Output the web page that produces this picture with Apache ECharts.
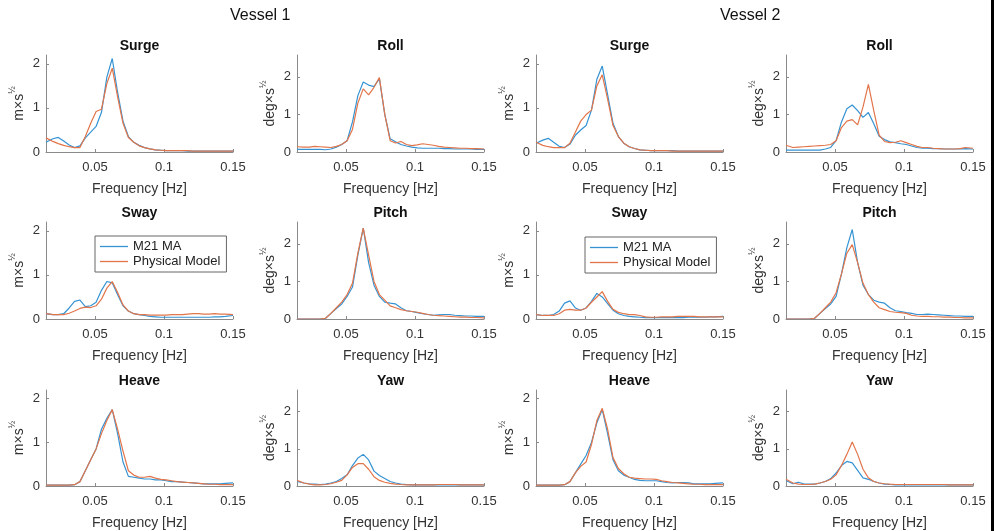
<!DOCTYPE html>
<html>
<head>
<meta charset="utf-8">
<title>Vessel motion spectra</title>
<script src="https://cdn.jsdelivr.net/npm/echarts@6/dist/echarts.min.js"></script>
<style>
  html, body { margin: 0; padding: 0; background: #fff; }
  #chart { width: 999px; height: 531px; }
</style>
</head>
<body>
<div id="chart"></div>
<script>
// frequency samples [Hz]
const freq = [0.0145, 0.0195, 0.0234, 0.0273, 0.0313, 0.0352, 0.0391, 0.043, 0.0469, 0.0508,
  0.0547, 0.0586, 0.0625, 0.0664, 0.0703, 0.0742, 0.0781, 0.082, 0.0859, 0.0898,
  0.0938, 0.0977, 0.1016, 0.1055, 0.1094, 0.1133, 0.1172, 0.1211, 0.125, 0.1289,
  0.1328, 0.1367, 0.1406, 0.1445, 0.15]
const xTicks = [0.05, 0.1, 0.15]
const yTicks = [0, 1, 2]
const seriesNames = ['M21 MA', 'Physical Model']
const vesselNames = ['Vessel 1', 'Vessel 2']

// Vessel 1
const surge1Num = [0.22, 0.30, 0.33, 0.25, 0.16, 0.10, 0.14, 0.32, 0.45, 0.58, 0.90, 1.70, 2.12, 1.35, 0.70, 0.35, 0.22, 0.15, 0.10, 0.07, 0.05, 0.04, 0.03, 0.03, 0.03, 0.03, 0.02, 0.02, 0.02, 0.02, 0.02, 0.02, 0.02, 0.02, 0.02]
const surge1Phys = [0.32, 0.24, 0.19, 0.15, 0.12, 0.10, 0.10, 0.35, 0.65, 0.92, 0.97, 1.55, 1.90, 1.25, 0.65, 0.33, 0.22, 0.14, 0.10, 0.07, 0.05, 0.04, 0.03, 0.03, 0.03, 0.03, 0.03, 0.02, 0.02, 0.02, 0.02, 0.02, 0.02, 0.02, 0.02]
const roll1Num = [0.07, 0.07, 0.07, 0.07, 0.07, 0.06, 0.08, 0.13, 0.20, 0.30, 0.80, 1.50, 1.86, 1.78, 1.74, 1.95, 1.00, 0.35, 0.27, 0.20, 0.16, 0.13, 0.11, 0.10, 0.10, 0.10, 0.10, 0.09, 0.09, 0.08, 0.08, 0.08, 0.08, 0.07, 0.07]
const roll1Phys = [0.14, 0.13, 0.13, 0.15, 0.14, 0.13, 0.12, 0.15, 0.20, 0.30, 0.60, 1.30, 1.68, 1.52, 1.72, 1.98, 1.00, 0.30, 0.24, 0.28, 0.20, 0.17, 0.19, 0.22, 0.20, 0.18, 0.15, 0.13, 0.12, 0.11, 0.10, 0.10, 0.09, 0.09, 0.08]
const sway1Num = [0.12, 0.10, 0.10, 0.12, 0.25, 0.40, 0.43, 0.28, 0.30, 0.38, 0.65, 0.85, 0.82, 0.55, 0.30, 0.18, 0.12, 0.10, 0.08, 0.06, 0.05, 0.04, 0.04, 0.04, 0.04, 0.04, 0.04, 0.04, 0.04, 0.04, 0.04, 0.05, 0.05, 0.06, 0.08]
const sway1Phys = [0.12, 0.10, 0.10, 0.10, 0.13, 0.18, 0.24, 0.27, 0.26, 0.30, 0.45, 0.70, 0.85, 0.60, 0.32, 0.18, 0.12, 0.10, 0.10, 0.09, 0.09, 0.09, 0.09, 0.10, 0.10, 0.10, 0.11, 0.12, 0.12, 0.11, 0.11, 0.12, 0.11, 0.11, 0.10]
const pitch1Num = [0, 0, 0, 0, 0, 0.02, 0.15, 0.28, 0.40, 0.60, 0.85, 1.70, 2.42, 1.50, 0.90, 0.60, 0.45, 0.42, 0.40, 0.30, 0.22, 0.20, 0.17, 0.14, 0.12, 0.10, 0.11, 0.12, 0.12, 0.10, 0.09, 0.08, 0.08, 0.07, 0.07]
const pitch1Phys = [0, 0, 0, 0, 0, 0.02, 0.15, 0.30, 0.45, 0.65, 0.95, 1.75, 2.42, 1.70, 1.00, 0.65, 0.50, 0.35, 0.30, 0.25, 0.22, 0.20, 0.18, 0.15, 0.12, 0.10, 0.09, 0.08, 0.07, 0.06, 0.05, 0.05, 0.04, 0.04, 0.03]
const heave1Num = [0.02, 0.02, 0.02, 0.02, 0.02, 0.03, 0.10, 0.35, 0.60, 0.85, 1.30, 1.55, 1.75, 1.20, 0.55, 0.22, 0.20, 0.18, 0.16, 0.16, 0.14, 0.14, 0.12, 0.10, 0.10, 0.09, 0.08, 0.07, 0.06, 0.05, 0.05, 0.05, 0.05, 0.06, 0.07]
const heave1Phys = [0.02, 0.02, 0.02, 0.02, 0.02, 0.03, 0.10, 0.35, 0.60, 0.85, 1.20, 1.50, 1.75, 1.30, 0.80, 0.35, 0.25, 0.20, 0.20, 0.22, 0.18, 0.15, 0.14, 0.12, 0.10, 0.09, 0.08, 0.07, 0.06, 0.05, 0.04, 0.04, 0.03, 0.03, 0.03]
const yaw1Num = [0.12, 0.08, 0.06, 0.05, 0.04, 0.05, 0.08, 0.12, 0.20, 0.30, 0.55, 0.75, 0.85, 0.70, 0.40, 0.28, 0.20, 0.12, 0.08, 0.05, 0.04, 0.03, 0.03, 0.03, 0.03, 0.03, 0.03, 0.03, 0.03, 0.03, 0.03, 0.03, 0.03, 0.03, 0.03]
const yaw1Phys = [0.15, 0.08, 0.05, 0.03, 0.03, 0.04, 0.06, 0.10, 0.15, 0.30, 0.50, 0.60, 0.60, 0.45, 0.25, 0.15, 0.10, 0.07, 0.05, 0.04, 0.03, 0.03, 0.03, 0.03, 0.03, 0.03, 0.04, 0.04, 0.04, 0.04, 0.03, 0.03, 0.03, 0.03, 0.03]

// Vessel 2
const surge2Num = [0.20, 0.27, 0.31, 0.22, 0.13, 0.10, 0.18, 0.38, 0.50, 0.60, 0.95, 1.65, 1.95, 1.30, 0.65, 0.35, 0.20, 0.12, 0.08, 0.05, 0.04, 0.03, 0.03, 0.03, 0.03, 0.03, 0.02, 0.02, 0.02, 0.02, 0.02, 0.02, 0.02, 0.02, 0.02]
const surge2Phys = [0.22, 0.15, 0.12, 0.10, 0.10, 0.10, 0.20, 0.45, 0.70, 0.85, 0.95, 1.50, 1.75, 1.20, 0.60, 0.35, 0.20, 0.12, 0.08, 0.05, 0.04, 0.03, 0.03, 0.03, 0.03, 0.02, 0.02, 0.02, 0.02, 0.02, 0.02, 0.02, 0.02, 0.02, 0.02]
const roll2Num = [0.05, 0.05, 0.05, 0.05, 0.05, 0.05, 0.05, 0.08, 0.12, 0.30, 0.80, 1.15, 1.25, 1.10, 0.92, 1.05, 0.75, 0.42, 0.33, 0.27, 0.25, 0.22, 0.20, 0.16, 0.12, 0.10, 0.10, 0.09, 0.09, 0.08, 0.08, 0.08, 0.08, 0.09, 0.08]
const roll2Phys = [0.18, 0.12, 0.13, 0.14, 0.15, 0.16, 0.17, 0.18, 0.20, 0.30, 0.65, 0.82, 0.86, 0.72, 1.20, 1.80, 1.10, 0.45, 0.28, 0.25, 0.26, 0.30, 0.25, 0.20, 0.15, 0.12, 0.12, 0.10, 0.09, 0.08, 0.08, 0.08, 0.09, 0.12, 0.10]
const sway2Num = [0.10, 0.08, 0.08, 0.10, 0.18, 0.36, 0.41, 0.25, 0.20, 0.25, 0.40, 0.58, 0.50, 0.35, 0.20, 0.12, 0.08, 0.06, 0.05, 0.04, 0.03, 0.03, 0.03, 0.03, 0.03, 0.03, 0.03, 0.03, 0.04, 0.04, 0.04, 0.04, 0.05, 0.05, 0.06]
const sway2Phys = [0.10, 0.08, 0.08, 0.08, 0.12, 0.20, 0.22, 0.20, 0.20, 0.25, 0.38, 0.50, 0.62, 0.40, 0.22, 0.15, 0.12, 0.10, 0.10, 0.08, 0.05, 0.04, 0.04, 0.05, 0.05, 0.05, 0.06, 0.06, 0.06, 0.06, 0.05, 0.05, 0.05, 0.05, 0.05]
const pitch2Num = [0, 0, 0, 0, 0, 0.02, 0.15, 0.28, 0.40, 0.60, 1.20, 1.90, 2.38, 1.50, 0.90, 0.65, 0.50, 0.45, 0.42, 0.30, 0.22, 0.20, 0.17, 0.15, 0.12, 0.12, 0.13, 0.12, 0.11, 0.10, 0.09, 0.08, 0.08, 0.07, 0.07]
const pitch2Phys = [0, 0, 0, 0, 0, 0.02, 0.15, 0.30, 0.45, 0.70, 1.20, 1.75, 1.98, 1.50, 0.95, 0.65, 0.45, 0.30, 0.25, 0.20, 0.18, 0.17, 0.15, 0.10, 0.08, 0.07, 0.07, 0.06, 0.06, 0.05, 0.05, 0.04, 0.04, 0.03, 0.03]
const heave2Num = [0.02, 0.02, 0.02, 0.02, 0.02, 0.03, 0.10, 0.30, 0.50, 0.70, 1.00, 1.45, 1.75, 1.20, 0.60, 0.35, 0.25, 0.20, 0.15, 0.13, 0.12, 0.12, 0.12, 0.10, 0.08, 0.07, 0.08, 0.08, 0.07, 0.05, 0.05, 0.05, 0.05, 0.06, 0.07]
const heave2Phys = [0.02, 0.02, 0.02, 0.02, 0.02, 0.03, 0.10, 0.30, 0.45, 0.55, 0.95, 1.50, 1.78, 1.30, 0.65, 0.40, 0.28, 0.20, 0.18, 0.17, 0.16, 0.16, 0.15, 0.12, 0.10, 0.08, 0.07, 0.06, 0.05, 0.04, 0.04, 0.03, 0.03, 0.03, 0.03]
const yaw2Num = [0.15, 0.06, 0.10, 0.06, 0.05, 0.05, 0.08, 0.12, 0.20, 0.35, 0.55, 0.66, 0.62, 0.42, 0.22, 0.18, 0.12, 0.08, 0.05, 0.04, 0.03, 0.03, 0.03, 0.03, 0.03, 0.03, 0.03, 0.03, 0.03, 0.03, 0.03, 0.03, 0.03, 0.03, 0.03]
const yaw2Phys = [0.18, 0.08, 0.05, 0.04, 0.04, 0.05, 0.08, 0.12, 0.18, 0.30, 0.55, 0.85, 1.18, 0.85, 0.45, 0.22, 0.12, 0.08, 0.06, 0.05, 0.04, 0.04, 0.04, 0.04, 0.04, 0.04, 0.04, 0.04, 0.04, 0.04, 0.03, 0.03, 0.03, 0.03, 0.03]

const FONT = 'Arial, "Liberation Sans", sans-serif'
const BLUE = '#3593d3'
const ORANGE = '#e2754a'
const AXIS = '#8a8a8a'
const TEXT = '#333'

// 面板布局
const colLeft = [46, 297, 536, 786]
const rowTop = [55, 222, 390]
const plotW = 187
const plotH = 97

// row-major: 3 rows x 4 columns
const panels = [
  { title: 'Surge', unit: 'm', ymax: 2.2, num: surge1Num, phys: surge1Phys },
  { title: 'Roll', unit: 'deg', ymax: 2.58, num: roll1Num, phys: roll1Phys },
  { title: 'Surge', unit: 'm', ymax: 2.2, num: surge2Num, phys: surge2Phys },
  { title: 'Roll', unit: 'deg', ymax: 2.58, num: roll2Num, phys: roll2Phys },
  { title: 'Sway', unit: 'm', ymax: 2.2, num: sway1Num, phys: sway1Phys },
  { title: 'Pitch', unit: 'deg', ymax: 2.58, num: pitch1Num, phys: pitch1Phys },
  { title: 'Sway', unit: 'm', ymax: 2.2, num: sway2Num, phys: sway2Phys },
  { title: 'Pitch', unit: 'deg', ymax: 2.58, num: pitch2Num, phys: pitch2Phys },
  { title: 'Heave', unit: 'm', ymax: 2.2, num: heave1Num, phys: heave1Phys },
  { title: 'Yaw', unit: 'deg', ymax: 2.58, num: yaw1Num, phys: yaw1Phys },
  { title: 'Heave', unit: 'm', ymax: 2.2, num: heave2Num, phys: heave2Phys },
  { title: 'Yaw', unit: 'deg', ymax: 2.58, num: yaw2Num, phys: yaw2Phys },
]

const grids = []
const xAxes = []
const yAxes = []
const titles = []
const series = []

panels.forEach((p, i) => {
  const r = Math.floor(i / 4)
  const c = i % 4
  const left = colLeft[c]
  const top = rowTop[r]
  grids.push({ left: left, top: top, width: plotW, height: plotH })
  titles.push({
    text: p.title,
    left: left + plotW / 2,
    top: top - 16,
    textAlign: 'center',
    padding: 0,
    textStyle: { fontFamily: FONT, fontSize: 14, fontWeight: 'bold', color: '#111' },
  })
  xAxes.push({
    type: 'value',
    gridIndex: i,
    min: 0.0145,
    max: 0.15,
    name: 'Frequency [Hz]',
    nameLocation: 'middle',
    nameGap: 30,
    nameTextStyle: { fontFamily: FONT, fontSize: 14, color: TEXT },
    axisLine: { show: true, onZero: false, lineStyle: { color: AXIS, width: 1 } },
    axisTick: { show: true, inside: true, length: 3, customValues: xTicks, lineStyle: { color: AXIS } },
    axisLabel: {
      customValues: xTicks,
      margin: 9,
      fontFamily: FONT,
      fontSize: 13,
      color: TEXT,
      formatter: (v) => String(v),
    },
    splitLine: { show: false },
  })
  yAxes.push({
    type: 'value',
    gridIndex: i,
    min: 0,
    max: p.ymax,
    name: '{a|' + p.unit + '×s}{b|½}',
    nameLocation: 'middle',
    nameRotate: 90,
    nameGap: 20,
    nameTextStyle: {
      rich: {
        a: { fontFamily: FONT, fontSize: 14, color: TEXT, lineHeight: 18, verticalAlign: 'bottom' },
        b: { fontFamily: FONT, fontSize: 9, color: TEXT, lineHeight: 18, verticalAlign: 'top' },
      },
    },
    axisLine: { show: true, lineStyle: { color: AXIS, width: 1 } },
    axisTick: { show: true, inside: true, length: 3, customValues: yTicks, lineStyle: { color: AXIS } },
    axisLabel: {
      customValues: yTicks,
      margin: 6,
      fontFamily: FONT,
      fontSize: 13,
      color: TEXT,
      formatter: (v) => String(v),
    },
    splitLine: { show: false },
  })
  // 蓝线在下，橙线在上
  series.push({
    name: seriesNames[0],
    type: 'line',
    xAxisIndex: i,
    yAxisIndex: i,
    symbol: 'none',
    silent: true,
    lineStyle: { color: BLUE, width: 1.2 },
    itemStyle: { color: BLUE },
    data: freq.map((f, k) => [f, p.num[k]]),
  })
  series.push({
    name: seriesNames[1],
    type: 'line',
    xAxisIndex: i,
    yAxisIndex: i,
    symbol: 'none',
    silent: true,
    lineStyle: { color: ORANGE, width: 1.2 },
    itemStyle: { color: ORANGE },
    data: freq.map((f, k) => [f, p.phys[k]]),
  })
})

const legendBase = {
  orient: 'vertical',
  data: seriesNames,
  selectedMode: false,
  icon: 'rect',
  itemWidth: 28,
  itemHeight: 1.3,
  itemGap: 2,
  padding: [4, 6, 4, 5],
  borderColor: '#666',
  borderWidth: 1,
  backgroundColor: '#fff',
  textStyle: { fontFamily: FONT, fontSize: 13, color: '#222' },
}

const chart = echarts.init(document.getElementById('chart'))
chart.setOption({
  animation: false,
  backgroundColor: '#fff',
  title: titles,
  grid: grids,
  xAxis: xAxes,
  yAxis: yAxes,
  legend: [
    Object.assign({}, legendBase, { left: 95, top: 236 }),
    Object.assign({}, legendBase, { left: 585, top: 237 }),
  ],
  graphic: [
    { type: 'text', left: 230, top: 8, style: { text: vesselNames[0], font: '16px ' + FONT, fill: '#111' } },
    { type: 'text', left: 720, top: 8, style: { text: vesselNames[1], font: '16px ' + FONT, fill: '#111' } },
    { type: 'rect', left: 991, top: 0, shape: { width: 3, height: 531 }, style: { fill: '#000' } },
  ],
  series: series,
})
</script>
</body>
</html>
